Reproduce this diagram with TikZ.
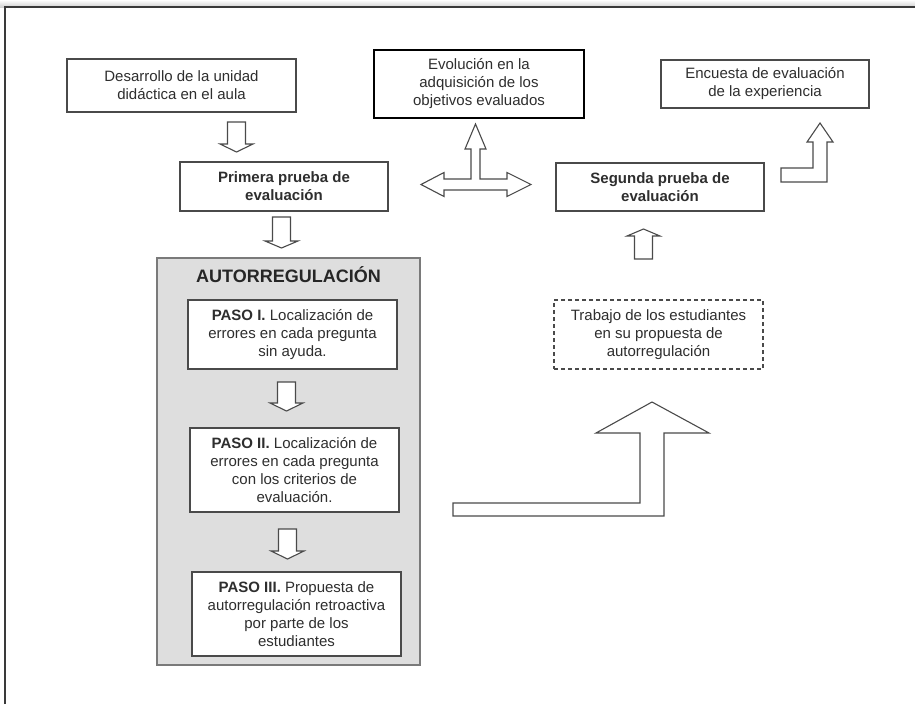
\documentclass[tikz,border=0pt]{standalone}
\usepackage{fontspec}
\setmainfont{Liberation Sans}
\usepackage{xcolor}
\definecolor{cLine}{HTML}{4A4A4A}
\definecolor{cText}{HTML}{2E2E2E}
\definecolor{cFrame}{HTML}{3A3A3A}
\definecolor{cGroup}{HTML}{DEDEDE}
\definecolor{cGroupLine}{HTML}{7A7A7A}
\usepackage{tikz}
\usetikzlibrary{positioning,calc}
\tikzset{
  node-box/.style={draw=cLine,line width=1.2pt,fill=white,align=center,text=cText,
    inner sep=0pt,font=\fontsize{15}{18}\selectfont},
  node-bold/.style={font=\fontsize{15}{18}\selectfont\bfseries},
  node-thick/.style={draw=black,line width=2.2pt},
  node-dashed/.style={dash pattern=on 4pt off 3pt},
  node-group/.style={draw=cGroupLine,line width=1.2pt,fill=cGroup},
  % flechas de bloque (contorno gris, relleno blanco)
  block-arrow/.style={draw=cLine,line width=1.1pt,fill=white,line join=miter},
}

\begin{document}
\begin{tikzpicture}[x=1pt,y=-1pt]
  \useasboundingbox (0,0) rectangle (915,704);
  \shade[top color=white,bottom color=black!18] (0,0) rectangle (915,7);
  \draw[draw=cFrame,line width=1.2pt] (5,704) -- (5,7) -- (915,7);

  \node[node-box,minimum width=229pt,minimum height=53pt] (dev) at (181.5,85.5) {Desarrollo de la unidad\\didáctica en el aula};
  \node[node-box,node-thick,minimum width=210pt,minimum height=68pt] (evol) at (479,84) {Evolución en la\\adquisición de los\\objetivos evaluados};
  \node[node-box,minimum width=208pt,minimum height=48pt] (enc) at (765,84) {Encuesta de evaluación\\de la experiencia};
  \node[node-box,node-bold,minimum width=208pt,minimum height=49pt] (prim) at (284,186.5) {Primera prueba de\\evaluación};
  \node[node-box,node-bold,minimum width=208pt,minimum height=48pt] (seg) at (660,187) {Segunda prueba de\\evaluación};

  \node[node-group,minimum width=263pt,minimum height=407pt] (auto) at (288.5,461.5) {};
  \node[font=\fontsize{18}{21}\selectfont\bfseries,text=black!85] (titulo) at (288.5,275) {AUTORREGULACIÓN};
  \node[node-box,minimum width=209pt,minimum height=69pt] (p1) at (292.5,334.5) {\textbf{PASO I.} Localización de\\errores en cada pregunta\\sin ayuda.};
  \node[node-box,minimum width=209pt,minimum height=84pt] (p2) at (294.5,470) {\textbf{PASO II.} Localización de\\errores en cada pregunta\\con los criterios de\\evaluación.};
  \node[node-box,minimum width=209pt,minimum height=84pt] (p3) at (296.5,614) {\textbf{PASO III.} Propuesta de\\autorregulación retroactiva\\por parte de los\\estudiantes};

  \node[node-box,node-dashed,minimum width=209pt,minimum height=69pt] (trab) at (658.5,334.5) {Trabajo de los estudiantes\\en su propuesta de\\autorregulación};

  % flechas hacia abajo
  \draw[block-arrow] (227.5,122) -- (245.5,122) -- (245.5,144) -- (253,144) -- (236.5,152) -- (220,144) -- (227.5,144) -- cycle;
  \draw[block-arrow] (272.5,217) -- (290.5,217) -- (290.5,241) -- (298,241) -- (281.5,248) -- (265,241) -- (272.5,241) -- cycle;
  \draw[block-arrow] (277.5,382) -- (295.5,382) -- (295.5,403) -- (303,403) -- (286.5,411) -- (270,403) -- (277.5,403) -- cycle;
  \draw[block-arrow] (278.5,529) -- (296.5,529) -- (296.5,551) -- (304,551) -- (287.5,559) -- (271,551) -- (278.5,551) -- cycle;
  % flecha hacia arriba (segunda prueba)
  \draw[block-arrow] (634.5,259) -- (652.5,259) -- (652.5,236) -- (660,236) -- (643.5,229) -- (627,236) -- (634.5,236) -- cycle;
  % flecha triple entre pruebas
  \draw[block-arrow] (444,179) -- (471,179) -- (471,149) -- (465,149) -- (475.5,124) -- (486,149) -- (480,149) -- (480,179)
    -- (507,179) -- (507,172.5) -- (531,184.5) -- (507,196.5) -- (507,190) -- (444,190) -- (444,196.5) -- (421,184.5) -- (444,172.5) -- cycle;
  % flecha hacia la encuesta
  \draw[block-arrow] (781,168) -- (813,168) -- (813,142) -- (807,142) -- (820,123) -- (833,142) -- (827,142) -- (827,182) -- (781,182) -- cycle;
  % flecha grande hacia el trabajo de los estudiantes
  \draw[block-arrow] (453,503) -- (640,503) -- (640,433) -- (596,433) -- (652,402) -- (709,433) -- (664,433) -- (664,516) -- (453,516) -- cycle;
\end{tikzpicture}
\end{document}
